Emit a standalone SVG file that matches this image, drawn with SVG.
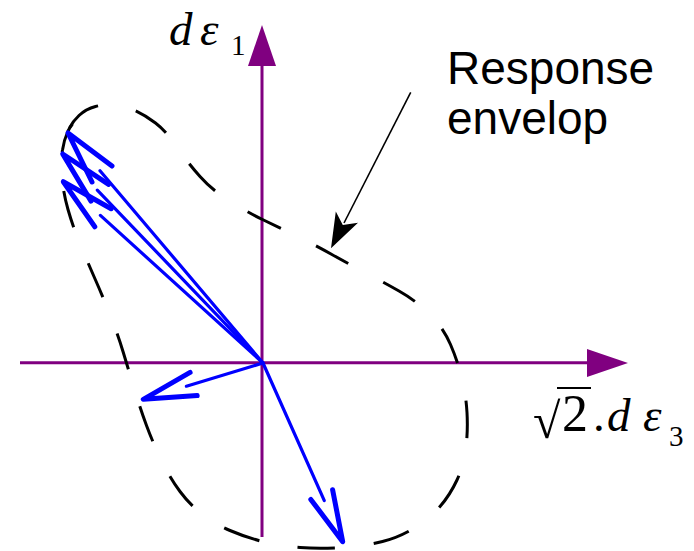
<svg xmlns="http://www.w3.org/2000/svg" width="694" height="551" viewBox="0 0 694 551">
<style>
.axis{stroke:#800080;stroke-width:3;fill:none}
.axhead{fill:#800080}
.env{stroke:#000;stroke-width:3;fill:none}
.dash{stroke-dasharray:37.5 38.7;stroke-dashoffset:53.2}
.shaft{stroke:#0000FF;stroke-width:3.2;fill:none;stroke-linecap:round}
.head{stroke:#0000FF;stroke-width:5;fill:none;stroke-linecap:round;stroke-linejoin:round}
.math{font-family:"Liberation Serif","Times New Roman",serif;fill:#000}
.it{font-style:italic}
.lbl{font-family:"Liberation Sans",Arial,sans-serif;font-size:46px;fill:#000}
</style>
<rect width="694" height="551" fill="#fff"/>
<g id="axes">
  <line class="axis" x1="20" y1="362.7" x2="590" y2="362.7"/>
  <polygon class="axhead" points="628,363 587,349 587,377"/>
  <line class="axis" x1="262" y1="537" x2="262" y2="64"/>
  <polygon class="axhead" points="262,25 248,66 276,66"/>
</g>
<g id="envelope">
  <path class="env dash" d="M 62.5,150 Q 64,140 68,131 Q 72,122 79,115.5 Q 86,109 95.5,106.5 Q 105,104 115,105 Q 125,106 135,110.5 Q 145,115 155.5,123 Q 166,131 177,147 Q 188,163 200,176.5 Q 212,190 229.5,201 Q 247,212 263.5,220 Q 280,228 297.5,236.5 Q 315,245 331,254 Q 347,263 365,272.5 Q 383,282 399,291 Q 415,300 429,313.5 Q 443,327 450.5,344.5 Q 458,362 462,378.5 Q 466,395 467,412.5 Q 468,430 466,447.5 Q 464,465 457,480 Q 450,495 440,506.5 Q 430,518 415,527.5 Q 400,537 382.5,541.5 Q 365,546 342.5,547.5 Q 320,549 300,547.5 Q 280,546 262.5,541.5 Q 245,537 230,530.5 Q 215,524 202.5,514.5 Q 190,505 180,491.5 Q 170,478 161.5,460.5 Q 153,443 146.5,425.5 Q 140,408 134,388 Q 128,368 123,351.5 Q 118,335 110.5,316 Q 103,297 95.5,280 Q 88,263 80.5,245 Q 73,227 68,209.5 Q 63,192 62,176 Q 61,160 62.5,150"/>
  <path class="env" d="M 62.5,150 Q 64,140 68,131 Q 70,127 72.5,124"/>
</g>
<g id="connectors">
  <g id="vecA">
    <line class="shaft" x1="263" y1="363" x2="100" y2="170.7"/>
    <polyline class="head" points="112,166 68,133 92,182"/>
  </g>
  <g id="vecB">
    <line class="shaft" x1="263" y1="363" x2="97.3" y2="190.1"/>
    <polyline class="head" points="108.6,184.3 62.7,154 91,201.1"/>
  </g>
  <g id="vecC">
    <line class="shaft" x1="263" y1="363" x2="100.4" y2="215.4"/>
    <polyline class="head" points="111.2,208.7 63.3,181.7 94.8,226.8"/>
  </g>
  <g id="vecD">
    <line class="shaft" x1="263" y1="363" x2="186.4" y2="386.2"/>
    <polyline class="head" points="190.1,372.4 143.3,399.3 197.2,395.6"/>
  </g>
  <g id="vecE">
    <line class="shaft" x1="263" y1="363" x2="324.3" y2="500.6"/>
    <polyline class="head" points="310.8,499.4 342.7,541.7 332.6,489.7"/>
  </g>
  <g id="pointer">
    <line x1="410.7" y1="92.3" x2="344" y2="223" stroke="#000" stroke-width="1.6"/>
    <polygon points="331,248.3 335.8,211.4 342.8,225.1 358,222.8" fill="#000"/>
  </g>
</g>
<g id="label-de1">
  <text class="math" font-size="47"><tspan class="it" x="169" y="45">d</tspan><tspan class="it" x="200" y="45">ε</tspan><tspan x="231" y="55" font-size="29">1</tspan></text>
</g>
<g id="label-de3">
  <text class="math" font-size="47"><tspan x="533" y="438" font-size="50">√</tspan><tspan x="562" y="431" font-size="52">2</tspan><tspan x="593" y="431">.</tspan><tspan class="it" x="607" y="431">d</tspan><tspan class="it" x="643" y="431">ε</tspan><tspan x="669" y="446" font-size="29">3</tspan></text>
  <line x1="557" y1="388" x2="591" y2="388" stroke="#000" stroke-width="2"/>
</g>
<g id="label-envelope">
  <text class="lbl"><tspan x="447" y="84">Response</tspan><tspan x="447" y="134">envelop</tspan></text>
</g>
</svg>
